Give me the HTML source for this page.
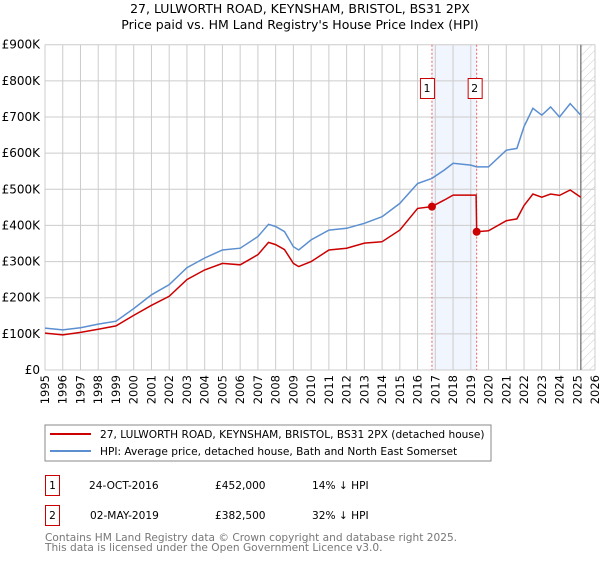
<!DOCTYPE html>
<html><head><meta charset="utf-8"><style>
body{margin:0;background:#fff;width:600px;height:560px;overflow:hidden;font-family:"DejaVu Sans","Liberation Sans",sans-serif}
svg text{font-family:"DejaVu Sans","Liberation Sans",sans-serif}
</style></head><body>
<svg id="c" width="600" height="560">
<defs><pattern id="h" width="6" height="6" patternUnits="userSpaceOnUse" patternTransform="rotate(45)"><line x1="0" y1="0" x2="0" y2="6" stroke="#ccc" stroke-width="1"/></pattern></defs>
<text x="300" y="13" text-anchor="middle" font-size="12.5">27, LULWORTH ROAD, KEYNSHAM, BRISTOL, BS31 2PX</text>
<text x="300" y="29" text-anchor="middle" font-size="12.5">Price paid vs. HM Land Registry's House Price Index (HPI)</text>
<g id="grid"></g><g id="marks"></g><g id="axes"></g>
<rect x="45" y="425" width="446" height="36" fill="#fff" stroke="#888"/>
<line x1="50" y1="434" x2="91" y2="434" stroke="#cc0000" stroke-width="2"/>
<text x="100" y="438" font-size="10.6">27, LULWORTH ROAD, KEYNSHAM, BRISTOL, BS31 2PX (detached house)</text>
<line x1="50" y1="451" x2="91" y2="451" stroke="#5b8fd0" stroke-width="2"/>
<text x="100" y="455" font-size="10.6">HPI: Average price, detached house, Bath and North East Somerset</text>
<g font-size="10.6">
<rect x="45.5" y="475.5" width="14" height="20" fill="none" stroke="#cc0000"/>
<text x="52.5" y="489" text-anchor="middle">1</text>
<text x="89" y="489">24-OCT-2016</text>
<text x="215" y="489">£452,000</text>
<text x="312" y="489">14% ↓ HPI</text>
<rect x="45.5" y="505.5" width="14" height="20" fill="none" stroke="#cc0000"/>
<text x="52.5" y="519" text-anchor="middle">2</text>
<text x="90" y="519">02-MAY-2019</text>
<text x="215" y="519">£382,500</text>
<text x="312" y="519">32% ↓ HPI</text>
</g>
<text x="45" y="541" font-size="10.6" fill="#777">Contains HM Land Registry data © Crown copyright and database right 2025.</text>
<text x="45" y="551" font-size="10.6" fill="#777">This data is licensed under the Open Government Licence v3.0.</text>
</svg>
<script>
const hpiYears=[1995,1996,1997,1998,1999,2000,2001,2002,2003,2004,2005,2006,2007,2007.6,2008,2008.5,2009,2009.3,2010,2011,2012,2013,2014,2015,2016,2016.8,2017.5,2018,2019,2019.33,2020,2021,2021.6,2022,2022.5,2023,2023.5,2024,2024.6,2025.2];
const hpiValues=[116,111,117,127,135,170,208,236,283,310,332,337,369,403,397,383,341,332,360,387,392,406,424,461,516,530,553,572,567,562,562,608,613,673,724,705,728,700,737,705];
const priceYears=[1995,1996,1997,1998,1999,2000,2001,2002,2003,2004,2005,2006,2007,2007.6,2008,2008.5,2009,2009.3,2010,2011,2012,2013,2014,2015,2016,2016.8,2017.5,2018,2019,2019.3,2019.33,2020,2021,2021.6,2022,2022.5,2023,2023.5,2024,2024.6,2025.2];
const priceValues=[102,97,104,113,122,151,179,204,250,277,295,291,319,353,347,333,295,286,300,332,337,351,355,387,447,452,470,484,484,484,382.5,385,413,418,455,487,478,487,483,498,478];
const saleYears=[2016.81,2019.33];
const saleValues=[452,382.5];
const yTicks=[0,100,200,300,400,500,600,700,800,900];
const yTickLabels=["£0","£100K","£200K","£300K","£400K","£500K","£600K","£700K","£800K","£900K"];
const x0=45,x1=595,y0=370,y1=44.7;
const X=y=>x0+(y-1995)/(2026-1995)*(x1-x0);
const Y=v=>y0-v/900*(y0-y1);
const NS="http://www.w3.org/2000/svg";
function mk(p,t,a){const e=document.createElementNS(NS,t);for(const k in a)e.setAttribute(k,a[k]);p.appendChild(e);return e;}
const g=document.getElementById('grid'),m=document.getElementById('marks'),ax=document.getElementById('axes');
const sh=mk(g,'rect',{x:X(saleYears[0]),y:y1,width:X(saleYears[1])-X(saleYears[0]),height:y0-y1,fill:'#eef3fc',opacity:0.8});


const ht=mk(g,'rect',{x:X(2025.2),y:y1,width:x1-X(2025.2),height:y0-y1,fill:'url(#h)'});


for(let yr=1995;yr<=2026;yr++){
 const l=mk(g,'line',{x1:X(yr),x2:X(yr),y1:y1,y2:y0,stroke:'#ccc','stroke-width':1});
 
 
 const t=mk(ax,'text',{x:0,y:0,'font-size':11.5,'text-anchor':'end',transform:`translate(${X(yr)+4},375) rotate(-90)`});
 t.textContent=yr;
 
 
}
yTicks.forEach((v,i)=>{
 const l=mk(g,'line',{x1:x0,x2:x1,y1:Y(v),y2:Y(v),stroke:'#ccc','stroke-width':1});
 
 
 const t=mk(ax,'text',{x:40,y:Y(v)+4,'font-size':12,'text-anchor':'end'});
 t.textContent=yTickLabels[i];
 
 
});
const vl=mk(g,'line',{x1:X(2025.2),x2:X(2025.2),y1:y1,y2:y0,stroke:'#888','stroke-width':1.5});


saleYears.forEach((s,i)=>{
 const l=mk(g,'line',{x1:X(s),x2:X(s),y1:y1,y2:y0,stroke:'#f06060','stroke-width':1,'stroke-dasharray':'2,2'});
 
 
 const r=mk(ax,'rect',{x:0,y:78.5,width:14,height:20,fill:'#fff',stroke:'#cc0000'});
 r.setAttribute('x',X(s)-(i==0?12:9)+0.5);
 
 
 const t=mk(ax,'text',{x:X(s)-(i==0?5:2),y:92,'font-size':11,'text-anchor':'middle'});
 t.textContent=String(i+1);
 
 
});
const pts=(xs,vs)=>xs.map((x,i)=>X(x).toFixed(1)+','+Y(vs[i]).toFixed(1)).join(' ');
const hp=mk(m,'polyline',{points:pts(hpiYears,hpiValues),fill:'none',stroke:'#5b8fd0','stroke-width':1.5});


const pp=mk(m,'polyline',{points:pts(priceYears,priceValues),fill:'none',stroke:'#cc0000','stroke-width':1.5});


saleYears.forEach((s,i)=>{
 const c=mk(m,'circle',{cx:X(s),cy:Y(saleValues[i]),r:4,fill:'#cc0000'});
 
 
});
</script>
</body></html>
